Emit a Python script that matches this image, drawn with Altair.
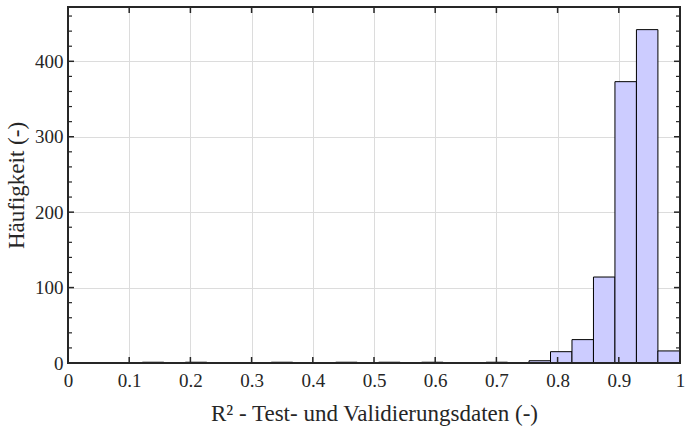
import altair as alt
import pandas as pd

# Histogram bin edges (25 bins) and counts
edges = [0.1215, 0.1566, 0.1917, 0.2268, 0.2619, 0.2970, 0.3321, 0.3672, 0.4023,
         0.4374, 0.4725, 0.5076, 0.5427, 0.5778, 0.6129, 0.6480, 0.6831, 0.7182,
         0.7533, 0.7884, 0.8235, 0.8586, 0.8937, 0.9288, 0.9639, 0.9995]
counts = [1, 0, 1, 0, 0, 0, 1, 0, 0, 1, 0, 1, 0, 1, 0, 0, 1, 0,
          3, 15, 31, 114, 373, 442, 16]

x_ticks = [0, 0.1, 0.2, 0.3, 0.4, 0.5, 0.6, 0.7, 0.8, 0.9, 1.0]
y_major = [0, 100, 200, 300, 400]
y_minor = [20, 40, 60, 80, 120, 140, 160, 180, 220, 240, 260, 280,
           320, 340, 360, 380, 420, 440, 460]

W, H = 612, 356
FONT = "Liberation Serif"

bars_df = pd.DataFrame({"lo": edges[:-1], "hi": edges[1:], "count": counts,
                        "base": [0] * len(counts)})
bars_df = bars_df[bars_df["count"] > 0]

xs = alt.Scale(domain=[0, 1], nice=False, zero=False)
ys = alt.Scale(domain=[0, 472], nice=False)

x_axis = alt.Axis(values=x_ticks, title="R² - Test- und Validierungsdaten (-)",
                  labelExpr="datum.value == 0 ? '0' : datum.value == 1 ? '1' : format(datum.value, '.1f')",
                  ticks=False, domain=False, grid=True, labelPadding=8,
                  titlePadding=12, labelFlush=False)
y_axis = alt.Axis(values=y_major, title="Häufigkeit (-)", ticks=False,
                  domain=False, grid=True, labelPadding=5, titlePadding=6,
                  labelFlush=False)

bars = alt.Chart(bars_df).mark_rect(
    fill="#CCCCFF", stroke="#000000", strokeWidth=1
).encode(
    x=alt.X("lo:Q", scale=xs, axis=x_axis),
    x2="hi:Q",
    y=alt.Y("count:Q", scale=ys, axis=y_axis),
    y2="base:Q",
)

xt_df = pd.DataFrame({"lo": x_ticks})
x_bottom = alt.Chart(xt_df).mark_rule(color="#262626", strokeWidth=1.5).encode(
    x=alt.X("lo:Q", scale=xs, axis=x_axis), y=alt.value(H), y2=alt.value(H - 6))
x_top = alt.Chart(xt_df).mark_rule(color="#262626", strokeWidth=1.5).encode(
    x=alt.X("lo:Q", scale=xs, axis=x_axis), y=alt.value(0), y2=alt.value(6))

ym_df = pd.DataFrame({"count": y_major})
yn_df = pd.DataFrame({"count": y_minor})
y_left = alt.Chart(ym_df).mark_rule(color="#262626", strokeWidth=1.5).encode(
    y=alt.Y("count:Q", scale=ys, axis=y_axis), x=alt.value(0), x2=alt.value(6))
y_right = alt.Chart(ym_df).mark_rule(color="#262626", strokeWidth=1.5).encode(
    y=alt.Y("count:Q", scale=ys, axis=y_axis), x=alt.value(W), x2=alt.value(W - 6))
yn_left = alt.Chart(yn_df).mark_rule(color="#262626", strokeWidth=1.2).encode(
    y=alt.Y("count:Q", scale=ys, axis=y_axis), x=alt.value(0), x2=alt.value(4))
yn_right = alt.Chart(yn_df).mark_rule(color="#262626", strokeWidth=1.2).encode(
    y=alt.Y("count:Q", scale=ys, axis=y_axis), x=alt.value(W), x2=alt.value(W - 4))

frame = alt.Chart(pd.DataFrame({"a": [0]})).mark_rect(
    fill=None, stroke="#262626", strokeWidth=2).encode(
    x=alt.value(0), x2=alt.value(W), y=alt.value(0), y2=alt.value(H))

chart = alt.layer(
    bars, x_bottom, x_top, y_left, y_right, yn_left, yn_right, frame
).properties(
    width=W, height=H,
    background="white",
    autosize=alt.AutoSizeParams(type="none"),
    padding={"left": 68, "top": 7, "right": 5, "bottom": 66},
).configure_view(stroke=None).configure_axis(
    labelFont=FONT, titleFont=FONT, labelFontSize=19, titleFontSize=23,
    labelColor="#262626", titleColor="#262626", titleFontWeight="normal",
    gridColor="#dcdcdc", gridWidth=1,
)

chart.save("out.html", embed_options={"renderer": "svg", "actions": False})
